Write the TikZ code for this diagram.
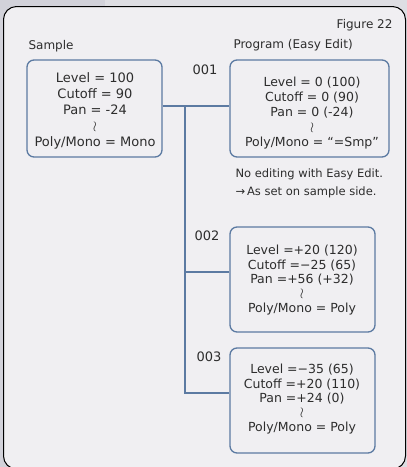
\documentclass[tikz,border=0pt]{standalone}
\usepackage{fontspec}
\setmainfont{DejaVu Sans}
\usetikzlibrary{positioning,calc}
\definecolor{kgline}{RGB}{92,122,162}
\definecolor{kgpanel}{RGB}{240,239,242}
\definecolor{kgpage}{RGB}{222,222,227}
\definecolor{kgside}{RGB}{210,210,218}
\definecolor{kgtext}{RGB}{45,45,45}
\newcommand{\kgwave}{{\fontsize{14}{10}\selectfont$\wr$}}

\begin{document}
\begin{tikzpicture}[x=1pt, y=-1pt,
  font=\fontsize{12.5}{15}\selectfont, text=kgtext,
  every node/.style={align=center},
  prmbox/.style={draw=kgline, line width=1.3pt, rounded corners=7pt, inner sep=0pt},
  link/.style={draw=kgline, line width=1.8pt}
]
\useasboundingbox (0,0) rectangle (407,467);
\fill[kgpage] (0,0) rectangle (407,467);
\fill[kgside] (0,0) rectangle (105,467);
\draw[fill=kgpanel, line width=1pt, rounded corners=13pt] (3.5,6.5) rectangle (405.5,469);

% boxes
\node[prmbox, minimum width=135pt, minimum height=97pt] (samp) at (94.5,108.5) {};
\node[prmbox, minimum width=159pt, minimum height=97pt] (prgA) at (309.5,108.5) {};
\node[prmbox, minimum width=145pt, minimum height=105pt] (prgB) at (302.5,279.5) {};
\node[prmbox, minimum width=145pt, minimum height=105pt] (prgC) at (302.5,400.5) {};

% box contents
\node[font=\fontsize{13}{16}\selectfont] (sampTx) at (95,111) {Level = 100\\Cutoff = 90\\Pan = -24\\\kgwave\\Poly/Mono = Mono};
\node (prgATx) at (312,113) {Level = 0 (100)\\Cutoff = 0 (90)\\Pan = 0 (-24)\\\kgwave\\Poly/Mono = “=Smp”};
\node[font=\fontsize{12.5}{14.3}\selectfont] (prgBTx) at (302,280) {Level =+20 (120)\\Cutoff =−25 (65)\\Pan =+56 (+32)\\\kgwave\\Poly/Mono = Poly};
\node[font=\fontsize{12.5}{14.3}\selectfont] (prgCTx) at (302,399) {Level =−35 (65)\\Cutoff =+20 (110)\\Pan =+24 (0)\\\kgwave\\Poly/Mono = Poly};

% labels
\node[anchor=east, font=\fontsize{12}{14}\selectfont] (fig) at (396,25) {Figure 22};
\node[anchor=west, font=\fontsize{12}{14}\selectfont] (sampLb) at (25,46) {Sample};
\node[anchor=west, font=\fontsize{12}{14}\selectfont] (prgLb) at (230,45) {Program (Easy Edit)};
\node[font=\fontsize{13}{15}\selectfont] (numA) at (205,70) {001};
\node[font=\fontsize{13}{15}\selectfont] (numB) at (207,236) {002};
\node[font=\fontsize{13}{15}\selectfont] (numC) at (209,357) {003};
\node[anchor=north west, align=left, font=\fontsize{11.5}{18}\selectfont] (note) at (232,165) {No editing with Easy Edit.\\→\,As set on sample side.};

% connectors
\coordinate (jn) at (185,106);
\draw[link] ([yshift=2.5pt]samp.east) -- ([yshift=2.5pt]prgA.west);
\draw[link] (jn) |- ([yshift=7.5pt]prgB.west);
\draw[link] (jn) |- ([yshift=7.5pt]prgC.west);
\end{tikzpicture}
\end{document}
